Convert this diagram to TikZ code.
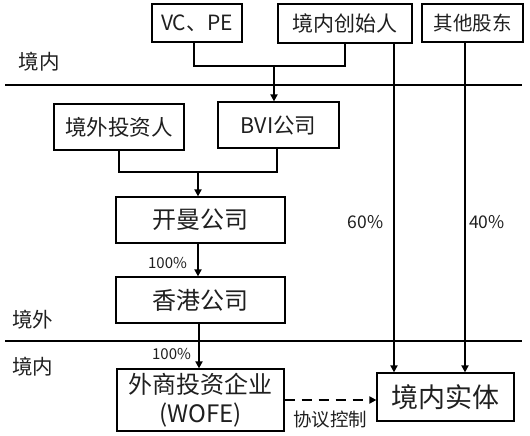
\documentclass[tikz,border=0pt]{standalone}
\usepackage{fontspec}
\setmainfont{Noto Sans CJK SC}
\usetikzlibrary{arrows.meta}
\tikzset{
  box/.style={draw=black, line width=1.2pt, rectangle, inner sep=0pt, align=center, text=black!88},
  conn/.style={line width=1.8pt, draw=black},
  arr/.style={conn, -{Triangle[length=7pt,width=7pt]}},
  sep/.style={line width=2.4pt, draw=black},
  lbl/.style={inner sep=0pt, text=black!88},
  pct/.style={lbl, font=\fontsize{15}{17}\selectfont},
  bigpct/.style={lbl, font=\fontsize{17.5}{19}\selectfont},
}
\begin{document}
\begin{tikzpicture}[x=1pt,y=-1pt]
\useasboundingbox (0,0) rectangle (530,436);
% boxes
\node[box, minimum width=90pt, minimum height=38pt, font=\fontsize{21}{24}\selectfont] (vc) at (197,23) {VC、PE};
\node[box, minimum width=134pt, minimum height=39pt, font=\fontsize{21}{24}\selectfont] (founder) at (345,23.5) {境内创始人};
\node[box, minimum width=101pt, minimum height=38pt, font=\fontsize{19.5}{22}\selectfont] (other) at (472.5,23) {其他股东};
\node[box, minimum width=130pt, minimum height=46pt, font=\fontsize{21.5}{24}\selectfont] (ovs) at (119,127) {境外投资人};
\node[box, minimum width=121pt, minimum height=46pt, font=\fontsize{21.5}{24}\selectfont] (bvi) at (278.5,125) {BVI公司};
\node[box, minimum width=169pt, minimum height=46pt, font=\fontsize{24}{28}\selectfont] (cayman) at (200.5,220) {开曼公司};
\node[box, minimum width=169pt, minimum height=46pt, font=\fontsize{24}{28}\selectfont] (hk) at (200.5,300) {香港公司};
\node[box, minimum width=167pt, minimum height=62pt, font=\fontsize{24}{29}\selectfont] (wofe) at (200.5,400) {外商投资企业\\(WOFE)};
\node[box, minimum width=137pt, minimum height=48pt, font=\fontsize{27}{30}\selectfont] (dom) at (445.5,397) {境内实体};
% separators
\coordinate (s1l) at (5,85); \coordinate (s1r) at (522,85);
\coordinate (s2l) at (5,341); \coordinate (s2r) at (522,341);
\draw[sep] (s1l) -- (s1r);
\draw[sep] (s2l) -- (s2r);
% region labels
\node[lbl, font=\fontsize{20.5}{22}\selectfont] (l1) at (39,62) {境内};
\node[lbl, font=\fontsize{20.5}{22}\selectfont] (l2) at (33,320) {境外};
\node[lbl, font=\fontsize{20.5}{22}\selectfont] (l3) at (33,367) {境内};
% connectors top
\coordinate (j1) at (274,66);
\draw[conn] ([xshift=-3pt]vc.south) |- (j1) -| (founder.south);
\draw[arr] (j1) -- (j1 |- bvi.north);
\coordinate (j2) at (198,172);
\draw[conn] (ovs.south) |- (j2) -| ([xshift=-1.5pt]bvi.south);
\draw[arr] (j2) -- (j2 |- cayman.north);
\coordinate (c1) at (198,243);
\draw[arr] (c1 |- cayman.south) -- (c1 |- hk.north);
\coordinate (c2) at (199,323);
\draw[arr] (c2 |- hk.south) -- (c2 |- wofe.north);
% right vertical lines
\coordinate (f1) at (394,43);
\coordinate (o1) at (465,42);
\draw[arr] (f1 |- founder.south) -- (f1 |- dom.north);
\draw[arr] (o1 |- other.south) -- (o1 |- dom.north);
% dashed control
\coordinate (d1) at (284,400);
\draw[conn, dash pattern=on 10pt off 7pt, -{Triangle[length=7pt,width=7pt]}] (d1 -| wofe.east) -- (d1 -| dom.west);
% percentage labels
\node[pct] (p1) at (167.5,263) {100\%};
\node[pct] (p2) at (171.5,354) {100\%};
\node[bigpct] (p3) at (365.5,222) {60\%};
\node[bigpct] (p4) at (487,222) {40\%};
\node[lbl, font=\fontsize{18.5}{20}\selectfont] (ctrl) at (330,420) {协议控制};
\end{tikzpicture}
\end{document}
